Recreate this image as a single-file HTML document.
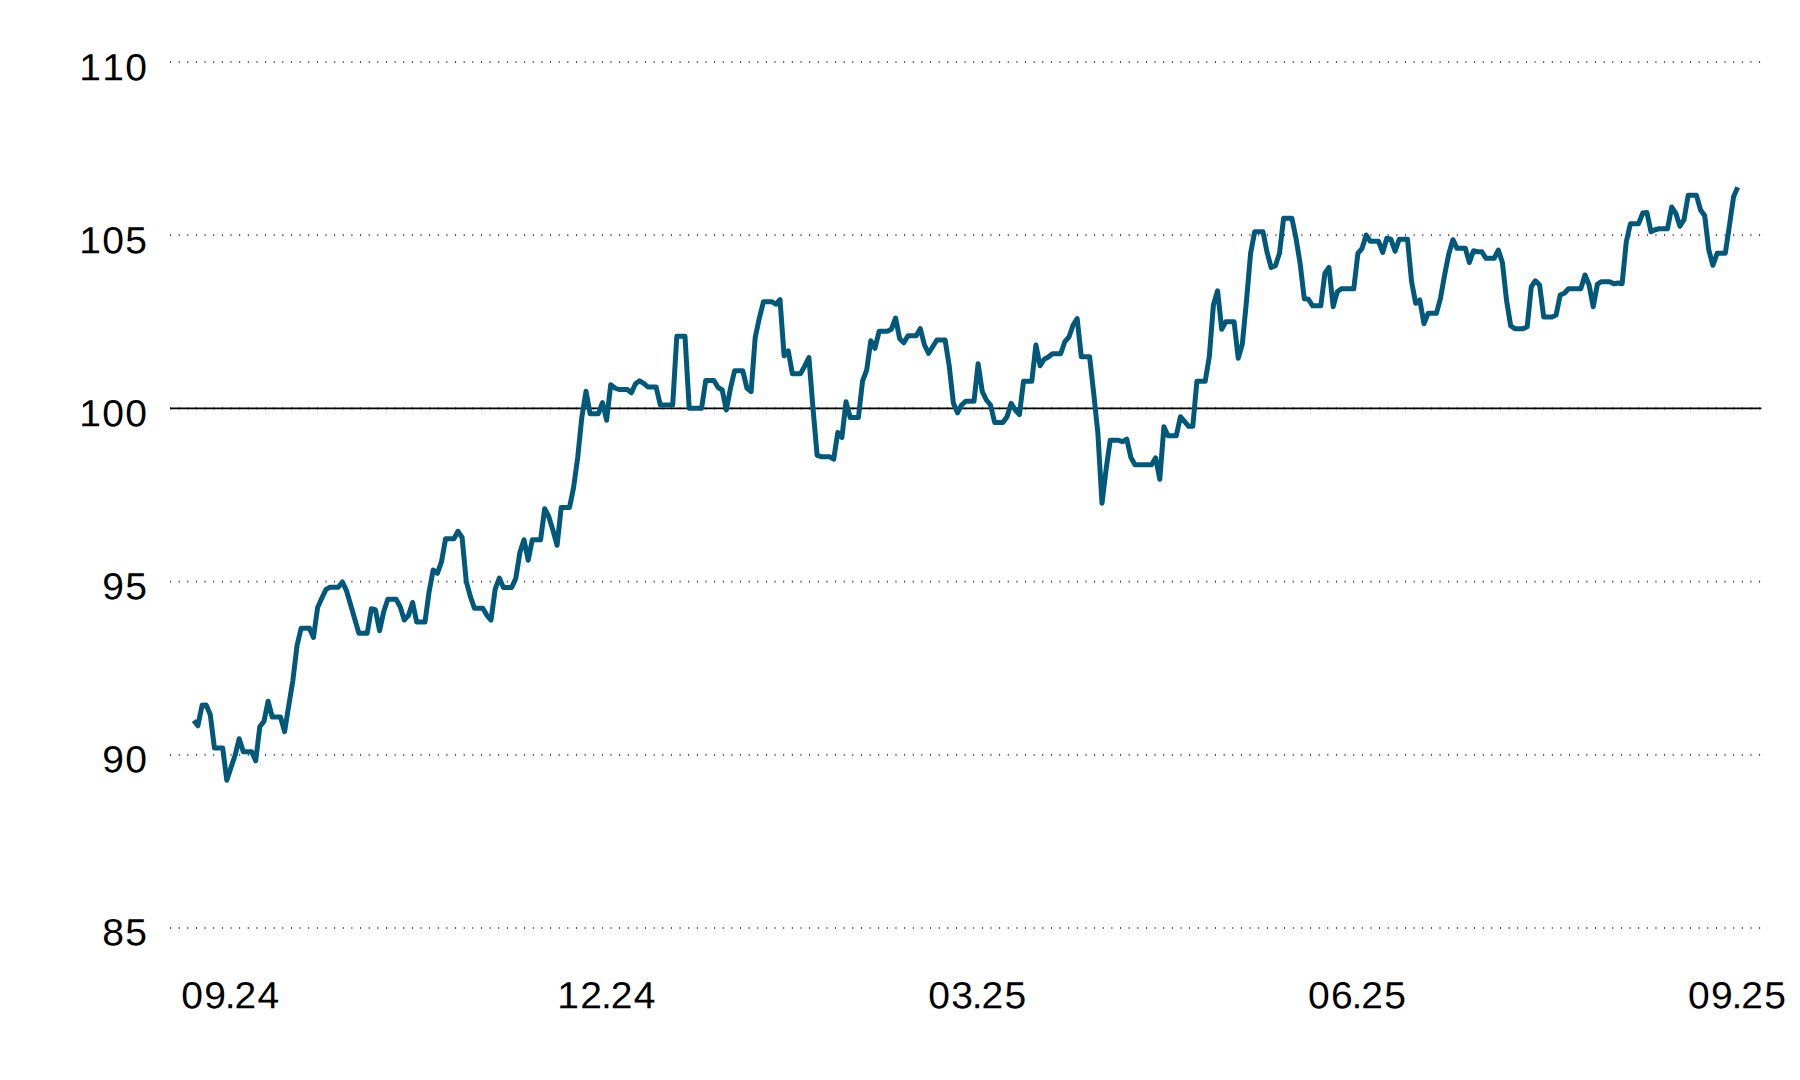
<!DOCTYPE html>
<html lang="en">
<head>
<meta charset="utf-8">
<title>Chart</title>
<style>
html,body{margin:0;padding:0;background:#fff;}
body{width:1800px;height:1080px;overflow:hidden;}
svg{display:block;}
.t{font-family:"Liberation Sans",sans-serif;font-size:37.7px;fill:#000;letter-spacing:1.25px;font-kerning:none;text-rendering:geometricPrecision;}
.g{stroke:#4d4d4d;stroke-width:2.2;stroke-dasharray:1 7.636;fill:none;}
.z{stroke:#000;stroke-width:1.6;fill:none;}
.l{stroke:#00597a;stroke-width:5;fill:none;stroke-linejoin:round;stroke-linecap:butt;}
</style>
</head>
<body>
<svg width="1800" height="1080" viewBox="0 0 1800 1080">
<rect width="1800" height="1080" fill="#fff"/>
<line class="g" x1="170.06" x2="1761" y1="62.0" y2="62.0"/>
<line class="g" x1="170.06" x2="1761" y1="235.2" y2="235.2"/>
<line class="g" x1="170.06" x2="1761" y1="408.4" y2="408.4"/>
<line class="g" x1="170.06" x2="1761" y1="581.6" y2="581.6"/>
<line class="g" x1="170.06" x2="1761" y1="754.8" y2="754.8"/>
<line class="g" x1="170.06" x2="1761" y1="928.0" y2="928.0"/>
<line class="z" x1="170" x2="1761.4" y1="408.4" y2="408.4"/>
<text class="t" transform="translate(148.3,80.2) rotate(0.05) scale(1.035,1)" text-anchor="end">110</text>
<text class="t" transform="translate(148.3,253.2) rotate(0.05) scale(1.035,1)" text-anchor="end">105</text>
<text class="t" transform="translate(148.3,426.2) rotate(0.05) scale(1.035,1)" text-anchor="end">100</text>
<text class="t" transform="translate(148.3,599.2) rotate(0.05) scale(1.035,1)" text-anchor="end">95</text>
<text class="t" transform="translate(148.3,772.2) rotate(0.05) scale(1.035,1)" text-anchor="end">90</text>
<text class="t" transform="translate(148.3,945.2) rotate(0.05) scale(1.035,1)" text-anchor="end">85</text>
<text class="t" transform="translate(230.9,1008.3) rotate(0.05) scale(1.035,1)" text-anchor="middle">09<tspan dx="-2.3">.</tspan><tspan dx="-2.3">24</tspan></text>
<text class="t" transform="translate(607.0,1008.3) rotate(0.05) scale(1.035,1)" text-anchor="middle">12<tspan dx="-2.3">.</tspan><tspan dx="-2.3">24</tspan></text>
<text class="t" transform="translate(977.9,1008.3) rotate(0.05) scale(1.035,1)" text-anchor="middle">03<tspan dx="-2.3">.</tspan><tspan dx="-2.3">25</tspan></text>
<text class="t" transform="translate(1357.6,1008.3) rotate(0.05) scale(1.035,1)" text-anchor="middle">06<tspan dx="-2.3">.</tspan><tspan dx="-2.3">25</tspan></text>
<text class="t" transform="translate(1737.6,1008.3) rotate(0.05) scale(1.035,1)" text-anchor="middle">09<tspan dx="-2.3">.</tspan><tspan dx="-2.3">25</tspan></text>
<polyline class="l" points="193.8,720.5 197.9,725.8 202.1,705.3 206.2,705.0 210.3,714.7 214.4,748.0 218.6,748.0 222.7,748.0 226.8,780.3 231.0,767.5 235.1,755.3 239.2,738.7 243.3,751.7 247.5,751.7 251.6,751.7 255.7,760.8 259.8,726.7 264.0,721.3 268.1,701.2 272.2,717.0 276.4,717.0 280.5,717.0 284.6,731.7 288.7,705.8 292.9,680.3 297.0,645.8 301.1,628.3 305.3,628.3 309.4,628.3 313.5,637.5 317.6,607.5 321.8,598.3 325.9,589.7 330.0,587.2 334.2,587.2 338.3,587.2 342.4,582.0 346.5,590.8 350.7,605.0 354.8,619.2 358.9,633.3 363.1,633.3 367.2,633.3 371.3,608.8 375.4,609.7 379.6,630.8 383.7,611.7 387.8,599.2 391.9,599.2 396.1,599.2 400.2,606.7 404.3,620.0 408.5,615.3 412.6,602.5 416.7,622.0 420.8,622.0 425.0,622.0 429.1,591.7 433.2,570.0 437.4,573.3 441.5,561.7 445.6,538.7 449.7,538.7 453.9,538.7 458.0,531.3 462.1,537.5 466.3,581.7 470.4,596.7 474.5,608.3 478.6,608.3 482.8,608.3 486.9,615.3 491.0,620.0 495.2,589.2 499.3,578.0 503.4,587.5 507.5,587.5 511.7,587.5 515.8,578.3 519.9,552.5 524.0,539.7 528.2,560.3 532.3,539.7 536.4,539.7 540.6,539.7 544.7,508.7 548.8,516.7 552.9,530.0 557.1,545.3 561.2,507.5 565.3,507.5 569.5,507.5 573.6,487.5 577.7,457.5 581.8,417.5 586.0,391.3 590.1,413.7 594.2,413.7 598.4,413.7 602.5,402.5 606.6,420.3 610.7,384.7 614.9,388.0 619.0,389.5 623.1,389.5 627.3,389.5 631.4,392.8 635.5,383.7 639.6,380.8 643.8,383.3 647.9,387.0 652.0,387.0 656.1,387.0 660.3,405.0 664.4,405.0 668.5,405.0 672.7,405.0 676.8,336.3 680.9,336.3 685.0,336.3 689.2,408.3 693.3,408.3 697.4,408.3 701.6,408.3 705.7,380.5 709.8,380.5 713.9,380.5 718.1,387.5 722.2,390.0 726.3,410.0 730.5,388.3 734.6,370.8 738.7,370.8 742.8,370.8 747.0,388.3 751.1,391.7 755.2,337.5 759.3,318.3 763.5,301.7 767.6,301.7 771.7,301.7 775.9,304.2 780.0,299.7 784.1,355.8 788.2,350.8 792.4,373.7 796.5,373.7 800.6,373.7 804.8,365.8 808.9,357.5 813.0,408.3 817.1,455.3 821.3,456.7 825.4,456.7 829.5,456.7 833.7,459.2 837.8,432.5 841.9,437.5 846.0,401.7 850.2,417.5 854.3,417.5 858.4,417.5 862.6,380.8 866.7,370.0 870.8,340.8 874.9,348.3 879.1,331.3 883.2,331.3 887.3,331.3 891.4,329.2 895.6,318.0 899.7,338.7 903.8,342.8 908.0,335.8 912.1,335.8 916.2,335.8 920.3,328.7 924.5,345.0 928.6,353.3 932.7,346.7 936.9,340.0 941.0,340.0 945.1,340.0 949.2,365.8 953.4,403.3 957.5,412.8 961.6,405.0 965.8,401.2 969.9,401.2 974.0,401.2 978.1,363.7 982.3,391.7 986.4,400.0 990.5,405.0 994.7,422.5 998.8,422.5 1002.9,422.5 1007.0,416.7 1011.2,403.3 1015.3,410.0 1019.4,414.7 1023.5,381.2 1027.7,381.2 1031.8,381.2 1035.9,345.0 1040.1,365.8 1044.2,359.2 1048.3,357.0 1052.4,353.7 1056.6,353.7 1060.7,353.7 1064.8,341.7 1069.0,337.0 1073.1,325.0 1077.2,318.7 1081.3,356.7 1085.5,356.7 1089.6,356.7 1093.7,393.3 1097.9,433.3 1102.0,503.3 1106.1,469.2 1110.2,440.3 1114.4,440.3 1118.5,440.3 1122.6,441.7 1126.8,439.2 1130.9,457.5 1135.0,464.7 1139.1,464.7 1143.3,464.7 1147.4,464.7 1151.5,464.7 1155.6,458.0 1159.8,479.2 1163.9,426.7 1168.0,435.8 1172.2,435.8 1176.3,435.8 1180.4,416.7 1184.5,421.3 1188.7,426.3 1192.8,426.3 1196.9,381.3 1201.1,381.3 1205.2,381.3 1209.3,356.7 1213.4,305.0 1217.6,290.8 1221.7,329.2 1225.8,321.7 1230.0,321.7 1234.1,321.7 1238.2,358.3 1242.3,344.2 1246.5,300.8 1250.6,253.3 1254.7,231.7 1258.8,231.7 1263.0,231.7 1267.1,252.5 1271.2,267.5 1275.4,265.8 1279.5,253.3 1283.6,218.3 1287.7,218.3 1291.9,218.3 1296.0,238.3 1300.1,263.3 1304.3,298.7 1308.4,299.2 1312.5,305.8 1316.6,305.8 1320.8,305.8 1324.9,273.3 1329.0,267.5 1333.2,306.7 1337.3,291.7 1341.4,288.8 1345.5,288.8 1349.7,288.8 1353.8,288.8 1357.9,253.3 1362.1,248.3 1366.2,235.0 1370.3,241.3 1374.4,241.3 1378.6,241.3 1382.7,252.5 1386.8,238.3 1390.9,239.2 1395.1,251.3 1399.2,239.2 1403.3,239.2 1407.5,239.2 1411.6,281.7 1415.7,303.3 1419.8,300.0 1424.0,323.7 1428.1,313.3 1432.2,313.3 1436.4,313.3 1440.5,298.3 1444.6,275.0 1448.7,254.2 1452.9,239.7 1457.0,248.3 1461.1,248.3 1465.3,248.3 1469.4,262.5 1473.5,250.8 1477.6,251.7 1481.8,251.7 1485.9,258.3 1490.0,258.3 1494.2,258.3 1498.3,250.0 1502.4,262.5 1506.5,300.0 1510.7,325.8 1514.8,328.8 1518.9,328.8 1523.0,328.8 1527.2,326.7 1531.3,286.7 1535.4,280.8 1539.6,285.0 1543.7,317.0 1547.8,317.0 1551.9,317.0 1556.1,315.0 1560.2,295.0 1564.3,293.3 1568.5,288.7 1572.6,288.7 1576.7,288.7 1580.8,288.7 1585.0,275.0 1589.1,285.0 1593.2,306.7 1597.4,284.2 1601.5,281.7 1605.6,281.7 1609.7,281.7 1613.9,283.8 1618.0,283.0 1622.1,283.7 1626.3,241.7 1630.4,223.7 1634.5,223.7 1638.6,223.7 1642.8,213.0 1646.9,212.5 1651.0,231.7 1655.1,229.7 1659.3,228.7 1663.4,228.7 1667.5,228.7 1671.7,207.0 1675.8,213.3 1679.9,226.3 1684.0,219.7 1688.2,195.3 1692.3,195.3 1696.4,195.3 1700.6,210.0 1704.7,215.8 1708.8,250.0 1712.9,265.3 1717.1,253.3 1721.2,253.3 1725.3,253.3 1729.5,225.0 1733.6,196.7 1737.7,187.3"/>
</svg>
</body>
</html>
